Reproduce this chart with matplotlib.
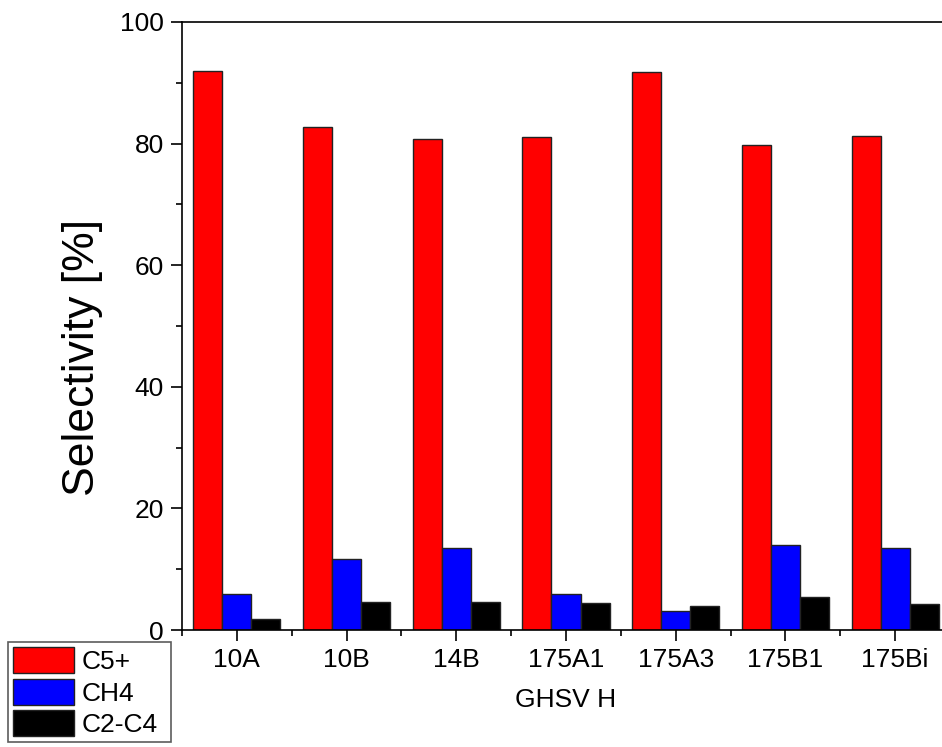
import matplotlib
matplotlib.use("Agg")
import matplotlib.pyplot as plt
import numpy as np
from matplotlib.ticker import MultipleLocator, FixedLocator

plt.rcParams['font.family'] = ['Liberation Sans', 'DejaVu Sans']

categories = ["10A", "10B", "14B", "175A1", "175A3", "175B1", "175Bi"]
c5_plus = [91.9, 82.7, 80.8, 81.1, 91.8, 79.7, 81.3]
ch4 = [5.9, 11.7, 13.5, 5.9, 3.1, 14.0, 13.5]
c2_c4 = [1.75, 4.55, 4.65, 4.5, 3.95, 5.4, 4.3]
series_names = ["C5+", "CH4", "C2-C4"]
colors = ["#FF0000", "#0000FF", "#000000"]

W, H = 942, 747
fig = plt.figure(figsize=(W / 100, H / 100), dpi=100)
ax = fig.add_axes([182 / W, (H - 630) / H, (950 - 182) / W, (630 - 22) / H])

x = np.arange(1, len(categories) + 1)
bw = 0.265
for i, (vals, name, col) in enumerate(zip([c5_plus, ch4, c2_c4], series_names, colors)):
    ax.bar(x + (i - 1) * bw, vals, width=bw, color=col, edgecolor="#222222",
           linewidth=1.0, label=name)

ax.set_xlim(0.5, len(categories) + 0.5)
ax.set_ylim(0, 100)
ax.set_xticks(x)
ax.set_xticklabels(categories)
ax.xaxis.set_minor_locator(FixedLocator(np.arange(0.5, len(categories) + 1, 1.0)))
ax.yaxis.set_major_locator(MultipleLocator(20))
ax.yaxis.set_minor_locator(MultipleLocator(10))

for s in ax.spines.values():
    s.set_linewidth(1.2)
ax.tick_params(axis='both', which='major', labelsize=19, length=8, width=1.2,
               direction='out', pad=5)
ax.tick_params(axis='both', which='minor', length=4.5, width=1.2, direction='out')
ax.tick_params(top=False, right=False, which='both')

ax.set_ylabel("Selectivity [%]", fontsize=32)
ax.yaxis.set_label_coords(-0.103, 0.449)
ax.set_xlabel("GHSV H", fontsize=19)
ax.xaxis.set_label_coords(0.5, -0.095)

leg_h = 108
leg = fig.legend(loc="upper left",
                 bbox_to_anchor=(8 / W, 1 - (642 + leg_h) / H, (171 - 8) / W, leg_h / H),
                 mode="expand",
                 fontsize=19, frameon=True, fancybox=False, edgecolor="#333333",
                 handlelength=2.3, handleheight=1.12, labelspacing=0.18,
                 handletextpad=0.3, borderpad=0.2, borderaxespad=0.0)
leg.get_frame().set_linewidth(1.2)

fig.savefig("out.png", dpi=100)
